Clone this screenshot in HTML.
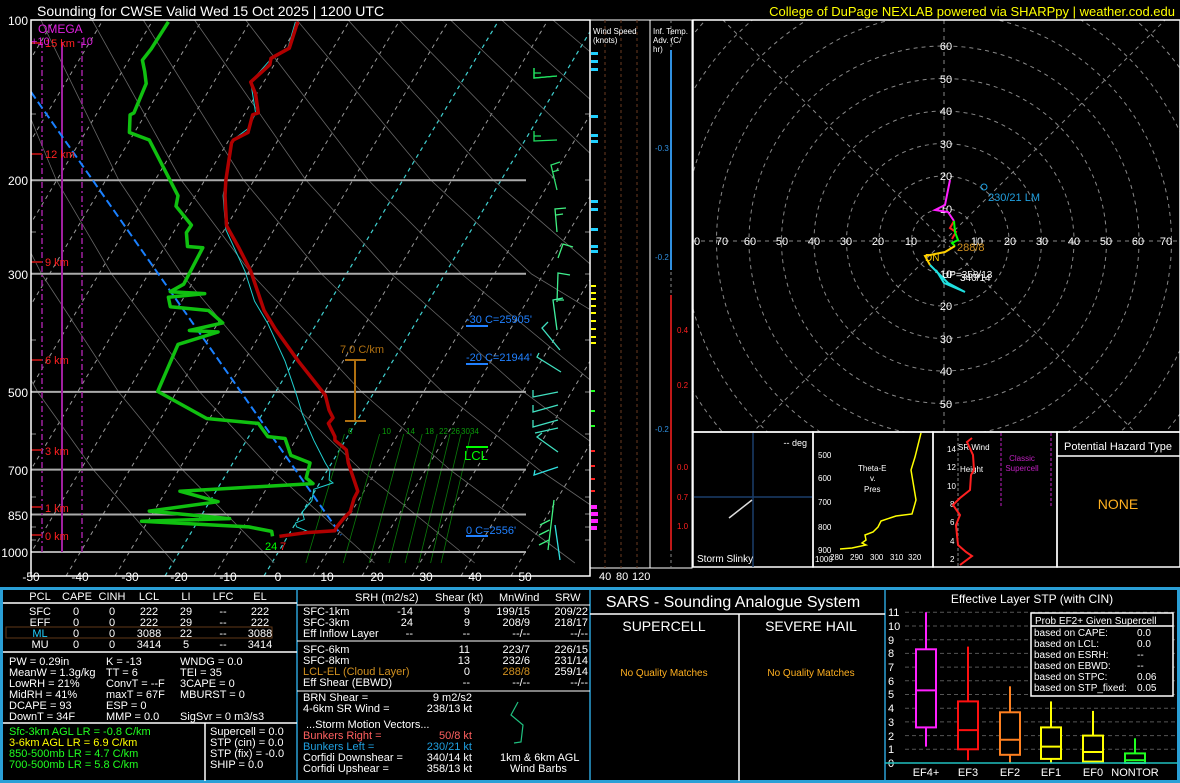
<!DOCTYPE html>
<html><head><meta charset="utf-8"><style>
html,body{margin:0;padding:0;background:#000;}
svg{display:block;font-family:"Liberation Sans",sans-serif;}
</style></head><body>
<svg width="1180" height="783" xmlns="http://www.w3.org/2000/svg">
<rect width="1180" height="783" fill="#000"/>
<defs>
<clipPath id="cp"><rect x="31" y="20" width="559" height="556"/></clipPath>
<clipPath id="ch"><rect x="693" y="20" width="487" height="412"/></clipPath>
</defs>
<g clip-path="url(#cp)">
<g stroke="#999" stroke-width="1" stroke-dasharray="4,4">
<line x1="-329" y1="576" x2="4" y2="20"/><line x1="-280" y1="576" x2="54" y2="20"/><line x1="-230" y1="576" x2="103" y2="20"/><line x1="-181" y1="576" x2="153" y2="20"/><line x1="-132" y1="576" x2="202" y2="20"/><line x1="-82" y1="576" x2="251" y2="20"/><line x1="-33" y1="576" x2="301" y2="20"/><line x1="17" y1="576" x2="350" y2="20"/><line x1="66" y1="576" x2="400" y2="20"/><line x1="115" y1="576" x2="449" y2="20"/><line x1="214" y1="576" x2="548" y2="20"/><line x1="313" y1="576" x2="647" y2="20"/><line x1="362" y1="576" x2="696" y2="20"/><line x1="412" y1="576" x2="746" y2="20"/><line x1="461" y1="576" x2="795" y2="20"/><line x1="511" y1="576" x2="844" y2="20"/>
</g>
<g stroke="#40d0d0" stroke-width="1.2" stroke-dasharray="4,4">
<line x1="165" y1="576" x2="499" y2="20"/><line x1="264" y1="576" x2="597" y2="20"/>
</g>
<g fill="none" stroke="#666" stroke-width="0.8">
<polyline points="-112.7,20 -68.5,180 -28.4,274 37.7,392 93.5,470 174.1,563"/>
<polyline points="-61.5,20 -6.1,180 41.6,274 118.7,392 182.7,470 274.3,563"/>
<polyline points="-10.3,20 56.3,180 111.6,274 199.7,392 271.9,470 374.5,563"/>
<polyline points="40.9,20 118.7,180 181.6,274 280.7,392 361.1,470 474.7,563"/>
<polyline points="92.1,20 181.1,180 251.6,274 361.7,392 450.3,470 574.9,563"/>
<polyline points="143.3,20 243.5,180 321.6,274 442.7,392 539.5,470 675.1,563"/>
<polyline points="194.5,20 305.9,180 391.6,274 523.7,392 628.7,470"/>
<polyline points="245.7,20 368.3,180 461.6,274 604.7,392"/>
<polyline points="296.9,20 430.7,180 531.6,274 640,340"/>
<polyline points="348.1,20 493.1,180 601.6,274"/>
<polyline points="399.3,20 555.5,180"/>
<polyline points="450.5,20 617.9,180"/>
<polyline points="501.7,20 680,180"/>
<polyline points="552.9,20 740,180"/>
</g>
<g stroke="#0a7a0a" stroke-width="0.8">
<line x1="344.4" y1="434" x2="305.9" y2="563"/><line x1="379.6" y1="434" x2="343.3" y2="563"/><line x1="403.7" y1="434" x2="369.1" y2="563"/><line x1="422.2" y1="434" x2="388.9" y2="563"/><line x1="437.2" y1="434" x2="405.1" y2="563"/><line x1="450" y1="434" x2="418.8" y2="563"/><line x1="461" y1="434" x2="430.6" y2="563"/><line x1="470.8" y1="434" x2="441.1" y2="563"/>
</g>
</g>
<g fill="#0a9a0a" font-size="8">
<text x="348" y="434">6</text><text x="382" y="434">10</text><text x="406" y="434">14</text><text x="425" y="434">18</text><text x="439" y="434">22</text><text x="451" y="434">26</text><text x="461" y="434">30</text><text x="470" y="434">34</text>
</g>
<!-- pressure lines -->
<g stroke="#aaa" stroke-width="2">
<line x1="31" y1="180.2" x2="526" y2="180.2"/><line x1="31" y1="273.8" x2="526" y2="273.8"/><line x1="31" y1="391.9" x2="526" y2="391.9"/><line x1="31" y1="469.6" x2="526" y2="469.6"/><line x1="31" y1="514.5" x2="526" y2="514.5"/><line x1="31" y1="552" x2="526" y2="552"/>
</g>
<g stroke="#888">
<line x1="31" y1="114" x2="36" y2="114"/><line x1="31" y1="232" x2="36" y2="232"/><line x1="31" y1="340" x2="36" y2="340"/><line x1="31" y1="434" x2="36" y2="434"/><line x1="31" y1="497" x2="36" y2="497"/><line x1="31" y1="527" x2="36" y2="527"/><line x1="31" y1="540" x2="36" y2="540"/>
<line x1="585" y1="114" x2="590" y2="114"/><line x1="585" y1="180" x2="590" y2="180"/><line x1="585" y1="232" x2="590" y2="232"/><line x1="585" y1="274" x2="590" y2="274"/><line x1="585" y1="340" x2="590" y2="340"/><line x1="585" y1="392" x2="590" y2="392"/><line x1="585" y1="434" x2="590" y2="434"/><line x1="585" y1="470" x2="590" y2="470"/><line x1="585" y1="497" x2="590" y2="497"/><line x1="585" y1="514" x2="590" y2="514"/><line x1="585" y1="527" x2="590" y2="527"/><line x1="585" y1="540" x2="590" y2="540"/>
</g>
<!-- omega -->
<line x1="62" y1="42" x2="62" y2="552" stroke="#a020a0" stroke-width="2"/>
<line x1="42" y1="42" x2="42" y2="552" stroke="#a020a0" stroke-width="1.5" stroke-dasharray="6,3,2,3"/>
<line x1="82" y1="42" x2="82" y2="552" stroke="#a020a0" stroke-width="1.5" stroke-dasharray="6,3,2,3"/>
<g stroke="#a01010" stroke-width="2">
<line x1="31" y1="43" x2="42" y2="43"/><line x1="31" y1="154" x2="42" y2="154"/><line x1="31" y1="262" x2="42" y2="262"/><line x1="31" y1="360" x2="42" y2="360"/><line x1="31" y1="450" x2="42" y2="450"/><line x1="31" y1="507" x2="42" y2="507"/><line x1="31" y1="535" x2="42" y2="535"/>
</g>
<!-- lapse bracket -->
<g stroke="#b07010" stroke-width="2"><line x1="355" y1="360" x2="355" y2="421"/><line x1="345" y1="360" x2="366" y2="360"/><line x1="345" y1="421" x2="366" y2="421"/></g>
<line x1="466" y1="447" x2="488" y2="447" stroke="#00ff00" stroke-width="2"/>
<g stroke="#2080ff" stroke-width="2"><line x1="466" y1="326" x2="488" y2="326"/><line x1="466" y1="364" x2="488" y2="364"/><line x1="466" y1="536" x2="488" y2="536"/></g>
<!-- parcel -->
<line x1="31" y1="92" x2="341" y2="535" stroke="#1a80ff" stroke-width="2" stroke-dasharray="8,4"/>
<!-- wetbulb -->
<polyline fill="none" stroke="#20d0d0" stroke-width="1" points="295.4,21.8 287.8,48.2 269.8,60.2 250.7,82 255.6,112.9 248.8,128 232.7,140 223.1,195.7 225.8,229.6 244.9,271 254.5,301.1 267.9,323.7 285.1,361.3 296.6,395.2 302.3,414 313.8,440.3 325.3,462.9 329.9,470.5 329.1,479.9 333,482.9 325.3,485.5 313.8,489.3 311.9,500.6 302.3,511.9 304.3,519.4 295.4,523.1 296.6,526.9 306.2,530.7 298.5,533.7"/>
<!-- temperature -->
<polyline fill="none" stroke="#b00000" stroke-width="3.5" stroke-linejoin="round" points="297.7,21.8 289.3,48.2 271,58.3 269.8,64.7 250.7,82 255.6,94.1 258.3,112.9 252.6,114.8 248,132.5 233.4,140 231.5,143 225.8,180.7 225,195.7 226.6,225.8 239.2,248.4 250.7,271 264.1,310.5 275.5,329.3 298.5,361.3 325.3,395.2 329.1,410.2 333,417.8 328.4,423.4 334.9,436.6 334.9,440.3 346.3,449.8 348.3,462.9 355.9,485.5 357.8,491.2 354,498.7 350.2,511.9 344.4,517.5 336.8,526.9 334.9,530.7 306.2,532.6 279.4,536.3"/>
<!-- dewpoint -->
<polyline fill="none" stroke="#10c010" stroke-width="3.5" stroke-linejoin="round" points="168.4,21.8 151.2,48.9 142.4,60.2 144.7,71.5 146.2,83.6 133.9,112.9 130.1,114.8 129.4,132.5 149.3,140 178,195.7 176,206.2 191.4,225.1 186.4,232.6 187.5,246.5 202.8,247.7 183.7,284.2 170.3,291.7 204.7,293.6 168.4,297.3 170.3,306.7 208.6,310.5 222.7,322.9 189.4,330.5 218.1,332 178,344.4 157.7,391.4 206.7,418.5 258.3,423.4 267.9,436.6 285.1,438.5 290.9,455.4 310,462.9 306.2,478 313,483.6 179.9,491.2 218.1,501.7 149.3,511.1 229.6,518.6 141.6,521.3 248.8,526.9 271.7,531.4 272.5,536.3"/>
<!-- wind barbs -->
<g fill="none" stroke-width="1.3">
<polyline stroke="#20e060" points="557,76 534,78 534,68 M534,72 540,72"/>
<path stroke="#20e060" d="M557,76 L534,78 L534,68 M534,73 L541,73"/>
<path stroke="#20e060" d="M557,140 L534,141 L534,131 M534,136 L541,136"/>
<path stroke="#30e070" d="M557,190 L551,165 L560,162 M552,172 L559,170"/>
<path stroke="#40f080" d="M557,232 L555,209 L566,208 M556,215 L563,214"/>
<path stroke="#40f080" d="M558,258 L563,244 L573,247"/>
<path stroke="#40f090" d="M557,302 L558,273 L570,275 M558,300 L564,300"/>
<path stroke="#40f0a0" d="M557,330 L553,300 L563,298"/>
<path stroke="#40e0c0" d="M560,350 L542,328 L548,322"/>
<path stroke="#40e0c0" d="M561,372 L537,357 L539,353"/>
<path stroke="#40e0c0" d="M558,392 L533,397 L533,390"/>
<path stroke="#40e0c0" d="M558,405 L533,412 L533,405"/>
<path stroke="#40e0c0" d="M558,420 L533,427 L533,420 M558,428 L535,433"/>
<path stroke="#40e0c0" d="M558,452 L537,437 L542,433"/>
<path stroke="#30e0e0" d="M558,467 L534,475 L535,470"/>
<path stroke="#40f080" d="M554,500 L548,550 M550,520 L540,525 M549,530 L539,535 M549,540 L539,545"/>
<path stroke="#30e0e0" d="M560,560 L555,525"/>
</g>
<!-- frame & labels -->
<rect x="31" y="20" width="559" height="556" fill="none" stroke="#fff" stroke-width="1.5"/>
<text x="37" y="16" fill="#fff" font-size="14">Sounding for CWSE Valid  Wed 15 Oct 2025 | 1200 UTC</text>
<text x="1175" y="16" fill="#ffff00" font-size="13" text-anchor="end">College of DuPage NEXLAB powered via SHARPpy | weather.cod.edu</text>
<g fill="#fff" font-size="12" text-anchor="end">
<text x="28" y="25">100</text><text x="28" y="185">200</text><text x="28" y="279">300</text>
<text x="28" y="397">500</text><text x="28" y="475">700</text><text x="28" y="520">850</text><text x="28" y="557">1000</text>
</g>
<g fill="#fff" font-size="12" text-anchor="middle">
<text x="31" y="581">-50</text><text x="80" y="581">-40</text><text x="130" y="581">-30</text><text x="179" y="581">-20</text><text x="228" y="581">-10</text><text x="278" y="581">0</text><text x="327" y="581">10</text><text x="377" y="581">20</text><text x="426" y="581">30</text><text x="475" y="581">40</text><text x="525" y="581">50</text>
</g>
<g fill="#ff2020" font-size="11">
<text x="45" y="47">15 km</text><text x="45" y="158">12 km</text><text x="45" y="266">9 km</text><text x="45" y="364">6 km</text><text x="45" y="455">3 km</text><text x="45" y="512">1 km</text><text x="45" y="540">0 km</text>
</g>
<text x="38" y="33" fill="#e020e0" font-size="12">OMEGA</text>
<text x="31" y="45" fill="#e020e0" font-size="11">+10</text>
<text x="77" y="45" fill="#e020e0" font-size="11">-10</text>
<g fill="#2080ff" font-size="11">
<text x="466" y="323">-30 C=25905'</text><text x="466" y="361">-20 C=21944'</text><text x="466" y="534">0 C=2556'</text>
</g>
<text x="340" y="353" fill="#b07010" font-size="11">7.0 C/km</text>
<text x="464" y="460" fill="#00ff00" font-size="13">LCL</text>
<text x="265" y="550" fill="#00ff00" font-size="11">24</text><text x="280" y="550" fill="#ff2020" font-size="11">7</text>
<!-- side columns -->
<rect x="590" y="20" width="60" height="548" fill="none" stroke="#fff"/>
<rect x="650" y="20" width="42" height="548" fill="none" stroke="#fff"/>
<g stroke="#6a3a20" stroke-dasharray="3,3"><line x1="605" y1="20" x2="605" y2="568"/><line x1="621" y1="20" x2="621" y2="568"/><line x1="637" y1="20" x2="637" y2="568"/></g>
<line x1="671" y1="20" x2="671" y2="568" stroke="#888" stroke-dasharray="3,3"/>
<g fill="#20d0ff"><rect x="591" y="52" width="7" height="3"/><rect x="591" y="60" width="7" height="3"/><rect x="591" y="68" width="7" height="3"/><rect x="591" y="115" width="7" height="3"/><rect x="591" y="134" width="7" height="3"/><rect x="591" y="140" width="7" height="3"/><rect x="591" y="200" width="7" height="3"/><rect x="591" y="208" width="7" height="3"/><rect x="591" y="228" width="7" height="3"/><rect x="591" y="245" width="7" height="3"/><rect x="591" y="250" width="7" height="3"/></g>
<g fill="#ffff00"><rect x="591" y="285" width="5" height="2"/><rect x="591" y="292" width="5" height="2"/><rect x="591" y="298" width="5" height="2"/><rect x="591" y="305" width="5" height="2"/><rect x="591" y="312" width="5" height="2"/><rect x="591" y="320" width="5" height="2"/><rect x="591" y="328" width="5" height="2"/><rect x="591" y="336" width="5" height="2"/><rect x="591" y="342" width="5" height="2"/></g>
<g fill="#20ff20"><rect x="591" y="390" width="4" height="2"/><rect x="591" y="410" width="4" height="2"/><rect x="591" y="425" width="4" height="2"/></g>
<g fill="#ff2020"><rect x="591" y="450" width="4" height="2"/><rect x="591" y="465" width="4" height="2"/><rect x="591" y="478" width="4" height="2"/><rect x="591" y="490" width="4" height="2"/></g>
<g fill="#ff20ff"><rect x="591" y="505" width="6" height="4"/><rect x="591" y="512" width="7" height="4"/><rect x="591" y="519" width="7" height="4"/><rect x="591" y="526" width="6" height="4"/></g>
<text x="593" y="34" fill="#fff" font-size="8">Wind Speed</text><text x="593" y="43" fill="#fff" font-size="8">(knots)</text>
<text x="653" y="34" fill="#fff" font-size="8">Inf. Temp.</text><text x="653" y="43" fill="#fff" font-size="8">Adv. (C/</text><text x="653" y="52" fill="#fff" font-size="8">hr)</text>
<text x="599" y="580" fill="#fff" font-size="11">40</text><text x="616" y="580" fill="#fff" font-size="11">80</text><text x="632" y="580" fill="#fff" font-size="11">120</text>
<g fill="#3090e0" font-size="8"><text x="655" y="151">-0.3</text><text x="655" y="260">-0.2</text><text x="655" y="432">-0.2</text></g>
<g fill="#ff2020" font-size="8"><text x="677" y="333">0.4</text><text x="677" y="388">0.2</text><text x="677" y="470">0.0</text><text x="677" y="500">0.7</text><text x="677" y="529">1.0</text></g>
<line x1="671" y1="50" x2="671" y2="270" stroke="#3090e0" stroke-width="2"/>
<line x1="671" y1="295" x2="671" y2="550" stroke="#ff2020" stroke-width="1.5"/>
<!-- hodograph -->
<g clip-path="url(#ch)" fill="none" stroke="#888" stroke-dasharray="4,4">
<circle cx="944" cy="241" r="32.5"/><circle cx="944" cy="241" r="65"/><circle cx="944" cy="241" r="97.5"/><circle cx="944" cy="241" r="130"/><circle cx="944" cy="241" r="162.5"/><circle cx="944" cy="241" r="195"/><circle cx="944" cy="241" r="227.5"/><circle cx="944" cy="241" r="260"/><circle cx="944" cy="241" r="292.5"/><circle cx="944" cy="241" r="325"/>
<line x1="693" y1="241" x2="1180" y2="241"/><line x1="944" y1="20" x2="944" y2="432"/>
<line x1="700" y1="-3" x2="1188" y2="485"/><line x1="700" y1="485" x2="1188" y2="-3"/>
</g>
<g fill="#fff" font-size="11" text-anchor="middle">
<text x="697" y="245">0</text><text x="722" y="245">70</text><text x="750" y="245">60</text><text x="782" y="245">50</text><text x="814" y="245">40</text><text x="846" y="245">30</text><text x="878" y="245">20</text><text x="911" y="245">10</text>
<text x="977" y="245">10</text><text x="1010" y="245">20</text><text x="1042" y="245">30</text><text x="1074" y="245">40</text><text x="1106" y="245">50</text><text x="1138" y="245">60</text><text x="1166" y="245">70</text>
<text x="946" y="50">60</text><text x="946" y="83">50</text><text x="946" y="115">40</text><text x="946" y="148">30</text><text x="946" y="180">20</text><text x="946" y="213">10</text>
<text x="946" y="278">10</text><text x="946" y="310">20</text><text x="946" y="343">30</text><text x="946" y="375">40</text><text x="946" y="408">50</text>
</g>
<polyline fill="none" stroke="#ff20ff" stroke-width="2" points="954,221 948,212 935,210 945,205 950,180"/>
<polyline fill="none" stroke="#ff2020" stroke-width="2" points="952,239 956,232 950,228 954,221"/>
<polyline fill="none" stroke="#00ff00" stroke-width="2" points="954,221 955,232 958,240 952,243 955,246"/>
<polyline fill="none" stroke="#ffd000" stroke-width="2" points="955,246 945,252 925,256 930,265"/>
<polyline fill="none" stroke="#20e0e0" stroke-width="2" points="930,265 948,283 965,292 944,283 936,270"/>
<circle cx="984" cy="187" r="3" fill="none" stroke="#20a0e0"/>
<text x="988" y="201" fill="#20a0e0" font-size="11">230/21 LM</text>
<text x="957" y="251" fill="#d09020" font-size="11">288/8</text>
<text x="925" y="261" fill="#ffd000" font-size="10">DN</text>
<text x="942" y="278" fill="#fff" font-size="10">UP=358/13</text>
<text x="960" y="281" fill="#fff" font-size="10">340/14</text>
<rect x="693" y="20" width="487" height="412" fill="none" stroke="#fff" stroke-width="1.5"/>
<!-- lower right panels -->
<rect x="693" y="432" width="120" height="135" fill="none" stroke="#fff" stroke-width="1.5"/>
<rect x="813" y="432" width="120" height="135" fill="none" stroke="#fff" stroke-width="1.5"/>
<rect x="933" y="432" width="124" height="135" fill="none" stroke="#fff" stroke-width="1.5"/>
<rect x="1057" y="432" width="123" height="135" fill="none" stroke="#fff" stroke-width="1.5"/>
<line x1="1057" y1="456" x2="1180" y2="456" stroke="#fff" stroke-width="1.5"/>
<text x="1118" y="450" fill="#fff" font-size="11" text-anchor="middle">Potential Hazard Type</text>
<text x="1118" y="509" fill="#ffb020" font-size="14" text-anchor="middle">NONE</text>
<line x1="753" y1="433" x2="753" y2="567" stroke="#1a3d6a" stroke-width="1.5"/>
<line x1="694" y1="497" x2="812" y2="497" stroke="#1a3d6a" stroke-width="1.5"/>
<line x1="729" y1="518" x2="752" y2="500" stroke="#ddd" stroke-width="1.5"/>
<text x="807" y="446" fill="#fff" font-size="9" text-anchor="end">-- deg</text>
<text x="697" y="562" fill="#fff" font-size="10">Storm Slinky</text>
<g fill="#fff" font-size="8"><text x="818" y="458">500</text><text x="818" y="481">600</text><text x="818" y="505">700</text><text x="818" y="530">800</text><text x="818" y="553">900</text><text x="815" y="562">1000</text>
<text x="830" y="560">280</text><text x="850" y="560">290</text><text x="870" y="560">300</text><text x="890" y="560">310</text><text x="908" y="560">320</text>
<text x="858" y="471">Theta-E</text><text x="870" y="481">v.</text><text x="864" y="492">Pres</text></g>
<polyline fill="none" stroke="#ffff00" stroke-width="1.5" points="921,433 915,457 911,470 913,482 916,500 912,514 896,516 881,521 878,527 873,532 865,535 866,540 862,543 866,545 852,548 840,549"/>
<g fill="#fff" font-size="8"><text x="947" y="452">14</text><text x="947" y="470">12</text><text x="947" y="489">10</text><text x="950" y="507">8</text><text x="950" y="525">6</text><text x="950" y="544">4</text><text x="950" y="562">2</text>
<text x="958" y="450">SR Wind</text><text x="960" y="472">Height</text></g>
<text x="1022" y="461" fill="#c020c0" font-size="8" text-anchor="middle">Classic</text><text x="1022" y="471" fill="#c020c0" font-size="8" text-anchor="middle">Supercell</text>
<line x1="1001" y1="433" x2="1001" y2="506" stroke="#c020c0" stroke-dasharray="3,2"/>
<line x1="1051" y1="433" x2="1051" y2="506" stroke="#c020c0" stroke-dasharray="3,2"/>
<line x1="958" y1="433" x2="958" y2="567" stroke="#888" stroke-dasharray="3,2"/>
<polyline fill="none" stroke="#ff2020" stroke-width="2" points="972,438 967,442 973,455 974,470 971,475 970,490 960,498 953,505 960,515 956,525 958,545 966,552 972,556 960,565"/>
<!-- bottom -->
<rect x="1.5" y="588.5" width="1177" height="193" fill="none" stroke="#2a9fd6" stroke-width="3"/>
<line x1="297" y1="590" x2="297" y2="781" stroke="#2a9fd6" stroke-width="1.5"/>
<line x1="590" y1="590" x2="590" y2="781" stroke="#2a9fd6" stroke-width="1.5"/>
<line x1="885" y1="590" x2="885" y2="781" stroke="#2a9fd6" stroke-width="1.5"/>
<line x1="3" y1="603" x2="297" y2="603" stroke="#fff" stroke-width="1.5"/>
<line x1="3" y1="652" x2="297" y2="652" stroke="#fff" stroke-width="1.5"/>
<line x1="3" y1="723" x2="297" y2="723" stroke="#fff" stroke-width="1.5"/>
<line x1="205" y1="723" x2="205" y2="781" stroke="#fff" stroke-width="1.5"/>
<line x1="297" y1="605" x2="590" y2="605" stroke="#fff" stroke-width="1"/>
<line x1="297" y1="641" x2="590" y2="641" stroke="#fff" stroke-width="1"/>
<line x1="297" y1="691" x2="590" y2="691" stroke="#fff" stroke-width="1"/>
<rect x="6" y="627" width="266" height="11" fill="none" stroke="#603818"/>
<g fill="#fff" font-size="11" text-anchor="middle">
<text x="40" y="600">PCL</text><text x="77" y="600">CAPE</text><text x="112" y="600">CINH</text><text x="149" y="600">LCL</text><text x="186" y="600">LI</text><text x="223" y="600">LFC</text><text x="260" y="600">EL</text>
<text x="40" y="615">SFC</text><text x="76" y="615">0</text><text x="112" y="615">0</text><text x="149" y="615">222</text><text x="186" y="615">29</text><text x="223" y="615">--</text><text x="260" y="615">222</text>
<text x="40" y="626">EFF</text><text x="76" y="626">0</text><text x="112" y="626">0</text><text x="149" y="626">222</text><text x="186" y="626">29</text><text x="223" y="626">--</text><text x="260" y="626">222</text>
<text x="40" y="637" fill="#20d0ff">ML</text><text x="76" y="637">0</text><text x="112" y="637">0</text><text x="149" y="637">3088</text><text x="186" y="637">22</text><text x="223" y="637">--</text><text x="260" y="637">3088</text>
<text x="40" y="648">MU</text><text x="76" y="648">0</text><text x="112" y="648">0</text><text x="149" y="648">3414</text><text x="186" y="648">5</text><text x="223" y="648">--</text><text x="260" y="648">3414</text>
</g>
<g fill="#fff" font-size="11">
<text x="9" y="665">PW = 0.29in</text><text x="106" y="665">K = -13</text><text x="180" y="665">WNDG = 0.0</text>
<text x="9" y="676">MeanW = 1.3g/kg</text><text x="106" y="676">TT = 6</text><text x="180" y="676">TEI = 35</text>
<text x="9" y="687">LowRH = 21%</text><text x="106" y="687">ConvT = --F</text><text x="180" y="687">3CAPE = 0</text>
<text x="9" y="698">MidRH = 41%</text><text x="106" y="698">maxT = 67F</text><text x="180" y="698">MBURST = 0</text>
<text x="9" y="709">DCAPE = 93</text><text x="106" y="709">ESP = 0</text>
<text x="9" y="720">DownT = 34F</text><text x="106" y="720">MMP = 0.0</text><text x="180" y="720">SigSvr = 0 m3/s3</text>
<text x="210" y="735">Supercell = 0.0</text><text x="210" y="746">STP (cin) = 0.0</text><text x="210" y="757">STP (fix) = -0.0</text><text x="210" y="768">SHIP = 0.0</text>
</g>
<g font-size="11"><text x="9" y="735" fill="#20ff20">Sfc-3km AGL LR = -0.8 C/km</text><text x="9" y="746" fill="#ffff00">3-6km AGL LR = 6.9 C/km</text><text x="9" y="757" fill="#20ff20">850-500mb LR = 4.7 C/km</text><text x="9" y="768" fill="#20ff20">700-500mb LR = 5.8 C/km</text></g>
<g fill="#fff" font-size="11">
<text x="355" y="601">SRH (m2/s2)</text><text x="435" y="601">Shear (kt)</text><text x="499" y="601">MnWind</text><text x="555" y="601">SRW</text>
<text x="303" y="615">SFC-1km</text><text x="303" y="626">SFC-3km</text><text x="303" y="637">Eff Inflow Layer</text>
<text x="303" y="653">SFC-6km</text><text x="303" y="664">SFC-8km</text><text x="303" y="686">Eff Shear (EBWD)</text>
<text x="303" y="701">BRN Shear =</text><text x="303" y="712">4-6km SR Wind =</text><text x="306" y="728">...Storm Motion Vectors...</text>
<text x="303" y="761">Corfidi Downshear =</text><text x="303" y="772">Corfidi Upshear =</text>
<text x="500" y="761">1km &amp; 6km AGL</text><text x="510" y="772">Wind Barbs</text>
</g>
<g fill="#fff" font-size="11" text-anchor="end">
<text x="413" y="615">-14</text><text x="470" y="615">9</text><text x="530" y="615">199/15</text><text x="588" y="615">209/22</text>
<text x="413" y="626">24</text><text x="470" y="626">9</text><text x="530" y="626">208/9</text><text x="588" y="626">218/17</text>
<text x="413" y="637">--</text><text x="470" y="637">--</text><text x="530" y="637">--/--</text><text x="588" y="637">--/--</text>
<text x="470" y="653">11</text><text x="530" y="653">223/7</text><text x="588" y="653">226/15</text>
<text x="470" y="664">13</text><text x="530" y="664">232/6</text><text x="588" y="664">231/14</text>
<text x="470" y="675">0</text><text x="530" y="675" fill="#d09020">288/8</text><text x="588" y="675">259/14</text>
<text x="470" y="686">--</text><text x="530" y="686">--/--</text><text x="588" y="686">--/--</text>
<text x="472" y="701">9 m2/s2</text><text x="472" y="712">238/13 kt</text>
<text x="472" y="739" fill="#ff6060">50/8 kt</text><text x="472" y="750" fill="#20a0e0">230/21 kt</text>
<text x="472" y="761">340/14 kt</text><text x="472" y="772">358/13 kt</text>
</g>
<text x="303" y="675" fill="#d09020" font-size="11">LCL-EL (Cloud Layer)</text>
<text x="303" y="739" fill="#ff6060" font-size="11">Bunkers Right =</text>
<text x="303" y="750" fill="#20a0e0" font-size="11">Bunkers Left =</text>
<polyline fill="none" stroke="#20c080" stroke-width="1.2" points="518,702 511,715 523,725 521,742 514,743"/>
<!-- SARS -->
<line x1="590" y1="614" x2="885" y2="614" stroke="#fff" stroke-width="1.5"/>
<line x1="739" y1="614" x2="739" y2="781" stroke="#fff" stroke-width="1.5"/>
<text x="733" y="607" fill="#fff" font-size="16" text-anchor="middle">SARS - Sounding Analogue System</text>
<text x="664" y="631" fill="#fff" font-size="14" text-anchor="middle">SUPERCELL</text>
<text x="811" y="631" fill="#fff" font-size="14" text-anchor="middle">SEVERE HAIL</text>
<text x="664" y="676" fill="#ffb020" font-size="10" text-anchor="middle">No Quality Matches</text>
<text x="811" y="676" fill="#ffb020" font-size="10" text-anchor="middle">No Quality Matches</text>
<!-- STP -->
<text x="1032" y="603" fill="#fff" font-size="12" text-anchor="middle">Effective Layer STP (with CIN)</text>
<g stroke="#555" stroke-dasharray="4,3">
<line x1="905" y1="749.3" x2="1178" y2="749.3"/><line x1="905" y1="735.6" x2="1178" y2="735.6"/><line x1="905" y1="721.9" x2="1178" y2="721.9"/><line x1="905" y1="708.2" x2="1178" y2="708.2"/><line x1="905" y1="694.5" x2="1178" y2="694.5"/><line x1="905" y1="680.8" x2="1178" y2="680.8"/><line x1="905" y1="667.1" x2="1178" y2="667.1"/><line x1="905" y1="653.4" x2="1178" y2="653.4"/><line x1="905" y1="639.7" x2="1178" y2="639.7"/><line x1="905" y1="626" x2="1178" y2="626"/><line x1="905" y1="612.3" x2="1178" y2="612.3"/>
</g>
<g fill="#fff" font-size="11">
<text x="888" y="767">0</text><text x="888" y="753">1</text><text x="888" y="740">2</text><text x="888" y="726">3</text><text x="888" y="712">4</text><text x="888" y="698">5</text><text x="888" y="685">6</text><text x="888" y="671">7</text><text x="888" y="657">8</text><text x="888" y="644">9</text><text x="888" y="630">10</text><text x="888" y="616">11</text>
</g>
<g fill="#000" stroke-width="2">
<line x1="926" y1="746.6" x2="926" y2="612.3" stroke="#ff20ff"/><rect x="916" y="649.3" width="20" height="78.1" stroke="#ff20ff"/><line x1="916" y1="690.4" x2="936" y2="690.4" stroke="#ff20ff"/>
<line x1="968" y1="760.3" x2="968" y2="646.6" stroke="#ff1010"/><rect x="958" y="701.4" width="20" height="47.9" stroke="#ff1010"/><line x1="958" y1="730.1" x2="978" y2="730.1" stroke="#ff1010"/>
<line x1="1010" y1="763" x2="1010" y2="686.3" stroke="#ff8020"/><rect x="1000" y="712.3" width="20" height="42.5" stroke="#ff8020"/><line x1="1000" y1="739.7" x2="1020" y2="739.7" stroke="#ff8020"/>
<line x1="1051" y1="763" x2="1051" y2="701.4" stroke="#ffff00"/><rect x="1041" y="727.4" width="20" height="31.5" stroke="#ffff00"/><line x1="1041" y1="746.6" x2="1061" y2="746.6" stroke="#ffff00"/>
<line x1="1093" y1="763" x2="1093" y2="710.9" stroke="#ffff00"/><rect x="1083" y="735.6" width="20" height="26" stroke="#ffff00"/><line x1="1083" y1="752" x2="1103" y2="752" stroke="#ffff00"/>
<line x1="1135" y1="763" x2="1135" y2="738.3" stroke="#20ff20"/><rect x="1125" y="753.4" width="20" height="9.6" stroke="#20ff20"/><line x1="1125" y1="760.3" x2="1145" y2="760.3" stroke="#20ff20"/>
</g>
<line x1="885" y1="763" x2="1178" y2="763" stroke="#20c0c0" stroke-width="1.5"/>
<rect x="1031" y="613" width="142" height="83" fill="#000" stroke="#fff" stroke-width="1.5"/>
<line x1="1031" y1="626" x2="1173" y2="626" stroke="#fff" stroke-width="1.5"/>
<g fill="#fff" font-size="10">
<text x="1035" y="624">Prob EF2+ Given Supercell</text>
<text x="1034" y="636">based on CAPE:</text><text x="1137" y="636">0.0</text>
<text x="1034" y="647">based on LCL:</text><text x="1137" y="647">0.0</text>
<text x="1034" y="658">based on ESRH:</text><text x="1137" y="658">--</text>
<text x="1034" y="669">based on EBWD:</text><text x="1137" y="669">--</text>
<text x="1034" y="680">based on STPC:</text><text x="1137" y="680">0.06</text>
<text x="1034" y="691">based on STP_fixed:</text><text x="1137" y="691">0.05</text>
</g>
<g fill="#fff" font-size="11" text-anchor="middle">
<text x="926" y="776">EF4+</text><text x="968" y="776">EF3</text><text x="1010" y="776">EF2</text><text x="1051" y="776">EF1</text><text x="1093" y="776">EF0</text><text x="1135" y="776">NONTOR</text>
</g>
</svg>
</body></html>
